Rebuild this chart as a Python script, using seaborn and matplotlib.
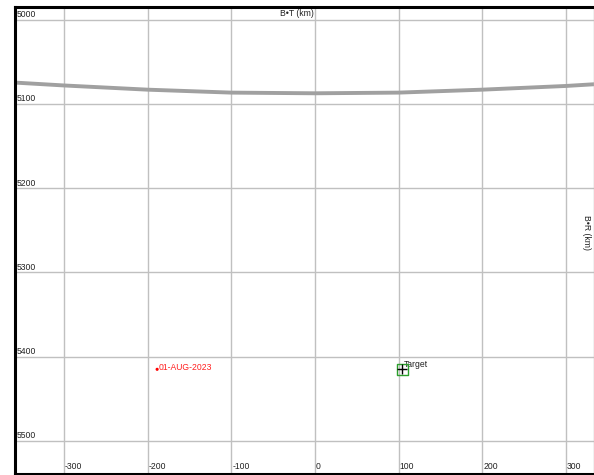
import matplotlib
matplotlib.use("Agg")
import matplotlib.pyplot as plt
import matplotlib.transforms as mtransforms
import seaborn as sns
import pandas as pd

# ---- data ----
curve_bt = [-360, -300, -200, -100, 0, 100, 200, 300, 335]
curve_br = [5074.5, 5078, 5083, 5086.5, 5087.3, 5086.5, 5083, 5078.6, 5076.5]

point_bt = [-188.5]
point_br = [5415]
point_labels = ["01-AUG-2023"]

target_bt = [104.4]
target_br = [5415]
target_labels = ["Target"]

xticks = [-300, -200, -100, 0, 100, 200, 300]
yticks = [5000, 5100, 5200, 5300, 5400, 5500]
xlabel = "B\u2022T (km)"
ylabel = "B\u2022R (km)"

sns.set_theme(style="white")
plt.rcParams['font.family'] = ['Liberation Sans', 'DejaVu Sans']

FS = 6.2
W, H = 594, 475
fig = plt.figure(figsize=(W / 100, H / 100), dpi=100)
l, r, t, b = 15.3, 593.5, 6.7, 473.5
ax = fig.add_axes([l / W, (H - b) / H, (r - l) / W, (b - t) / H])

ax.set_xlim(-358, 333)
ax.set_ylim(5538.7, 4984.5)

# grid
for xv in xticks:
    ax.axvline(xv, color="#c0c0c0", lw=1.0, zorder=0)
for yv in yticks:
    ax.axhline(yv, color="#c0c0c0", lw=1.0, zorder=0)

curve = pd.DataFrame({"bt": curve_bt, "br": curve_br})
sns.lineplot(data=curve, x="bt", y="br", ax=ax, color="#a0a0a0", lw=2.8,
             sort=False, estimator=None)

pts = pd.DataFrame({"bt": point_bt, "br": point_br})
sns.scatterplot(data=pts, x="bt", y="br", ax=ax, color="#ff0000", s=5,
                edgecolor="none", zorder=5)
for xv, yv, lab in zip(point_bt, point_br, point_labels):
    ax.annotate(lab, (xv, yv), xytext=(1.3, 1.5), textcoords="offset points",
                color="#ff2020", fontsize=FS, ha="left", va="center")

ax.scatter(target_bt, target_br, marker="s", s=60, facecolors="none",
           edgecolors="#2ca02c", linewidths=1.0, zorder=5)
ax.scatter(target_bt, target_br, marker="+", s=50, color="black",
           linewidths=1.0, zorder=6)
for xv, yv, lab in zip(target_bt, target_br, target_labels):
    ax.annotate(lab, (xv, yv), xytext=(1.2, 3.6), textcoords="offset points",
                color="#222222", fontsize=FS, ha="left", va="center")

ax.set_xticks([])
ax.set_yticks([])
ax.set_xlabel("")
ax.set_ylabel("")

# tick labels drawn inside
bx = mtransforms.blended_transform_factory(ax.transData, ax.transAxes)
for xv in xticks:
    ax.text(xv + 1.2, 0.006, str(xv), transform=bx, fontsize=FS,
            color="#222222", ha="left", va="bottom")
by = mtransforms.blended_transform_factory(ax.transAxes, ax.transData)
for yv in yticks:
    ax.text(0.003, yv - 0.8, str(yv), transform=by, fontsize=FS,
            color="#222222", ha="left", va="bottom")

ax.text(-22, 0.985, xlabel, transform=bx, fontsize=FS, color="#222222",
        ha="center", va="center")
ax.text(0.988, 5253, ylabel, transform=by, fontsize=FS, color="#222222",
        ha="center", va="center", rotation=-90)

for side in ["left", "top", "bottom"]:
    ax.spines[side].set_color("black")
    ax.spines[side].set_linewidth(2.2)
ax.spines["right"].set_color("#bbbbbb")
ax.spines["right"].set_linewidth(1.0)

fig.savefig("out.png", dpi=100)
